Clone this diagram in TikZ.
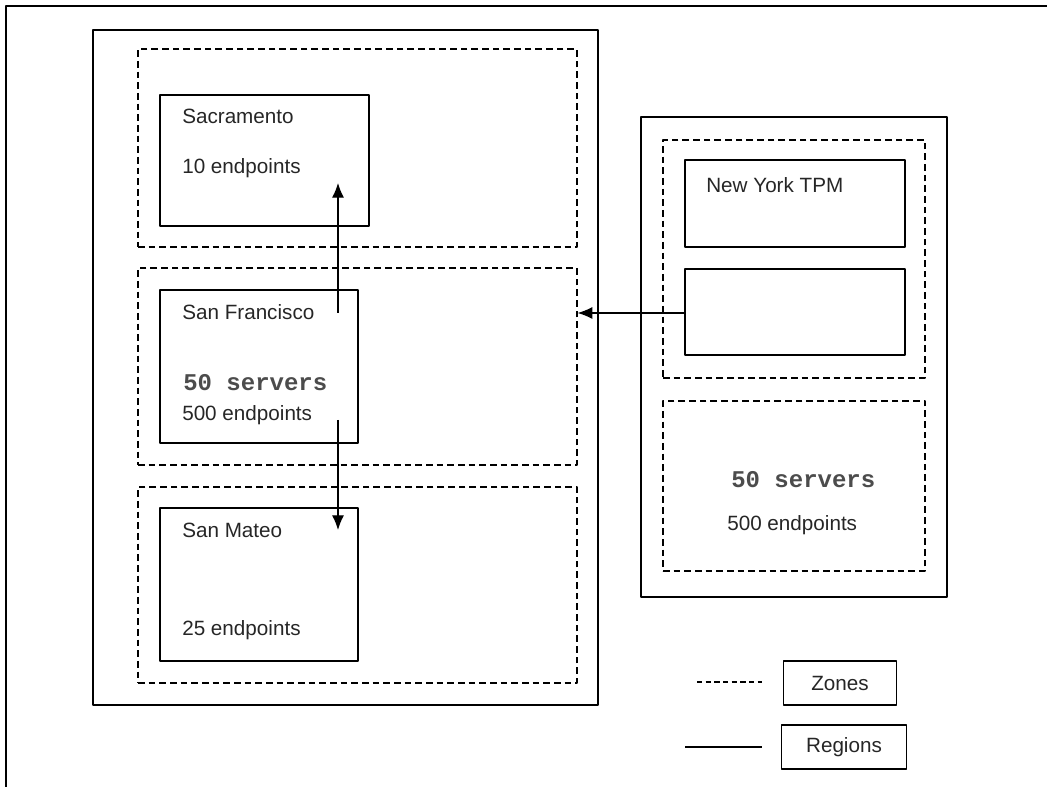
\documentclass[tikz,border=0pt]{standalone}
\usepackage{fontspec}
\setmainfont{Liberation Sans}
\setmonofont{Liberation Mono}
\usetikzlibrary{arrows.meta,fit,calc}

\begin{document}
\begin{tikzpicture}[x=0.75pt, y=-0.75pt, font=\fontsize{15.5}{18}\selectfont, line join=round, line cap=butt, >={Latex[length=11pt,width=9pt]}]
	\tikzset{region/.style={draw, line width=0.9pt, inner sep=0pt},
		zone/.style={draw, dash pattern=on 5pt off 3pt, line width=0.9pt, inner sep=0pt},
		site/.style={draw, line width=0.9pt, inner sep=0pt},
		txt/.style={anchor=west, inner sep=0pt, text=black!85},
		srv/.style={txt, font=\fontsize{18}{21}\selectfont\ttfamily\bfseries, text=black!70},
		legend/.style={draw, line width=0.9pt, minimum width=85pt, minimum height=33pt, inner sep=0pt, text=black!85}}
	\useasboundingbox (0,0) rectangle (1047,787);
	\draw[line width=1.3pt] (6,787) -- (6,6) -- (1047,6);
	
	\node[region, fit={(93,30) (598,705)}] (west) {};
	\node[zone, fit={(138,49) (577,247)}] (zn1) {};
	\node[zone, fit={(138,268) (577,465)}] (zn2) {};
	\node[zone, fit={(138,487) (577,683)}] (zn3) {};
	\node[site, fit={(160,95) (369,226)}] (sac) {};
	\node[site, fit={(160,290) (358,443)}] (sf) {};
	\node[site, fit={(160,508) (358,661)}] (sm) {};
	
	\node[txt] (sacname) at (182,116) {Sacramento};
	\node[txt] (sacep) at (182,168) {10 endpoints};
	\node[txt] (sfname) at (182,312) {San Francisco};
	\node[srv] (sfsrv) at (183,383) {50 servers};
	\node[txt] (sfep) at (182,415) {500 endpoints};
	\node[txt] (smname) at (182,530) {San Mateo};
	\node[txt] (smep) at (182,630) {25 endpoints};
	
	\node[region, fit={(641,117) (947,597)}] (east) {};
	\node[zone, fit={(663,140) (925,378)}] (zn4) {};
	\node[zone, fit={(663,401) (925,571)}] (zn5) {};
	\node[site, fit={(685,160) (905,247)}] (tpm) {};
	\node[site, fit={(685,269) (905,355)}] (blank) {};
	\node[txt] (tpmname) at (706,185) {New York TPM};
	\node[srv] (nysrv) at (731,480) {50 servers};
	\node[txt] (nyep) at (727,525) {500 endpoints};
	
	\coordinate (upfrom) at (338,313);
	\coordinate (upto) at (338,183);
	\coordinate (dnfrom) at (338,420);
	\coordinate (dnto) at (338,530);
	\draw[->, line width=0.9pt] (upfrom) -- (upto);
	\draw[->, line width=0.9pt] (dnfrom) -- (dnto);
	\draw[->, line width=0.9pt] (blank.west |- 0,313) -- (zn2.east |- 0,313);
	
	\node[legend] (zones) at (840,683) {Zones};
	\node[legend, minimum width=94pt] (regions) at (844,747) {Regions};
	\draw[line width=0.9pt, dash pattern=on 4pt off 2.5pt] (697,682) -- (762,682);
	\draw[line width=0.9pt] (685,747) -- (762,747);
\end{tikzpicture}
\end{document}
